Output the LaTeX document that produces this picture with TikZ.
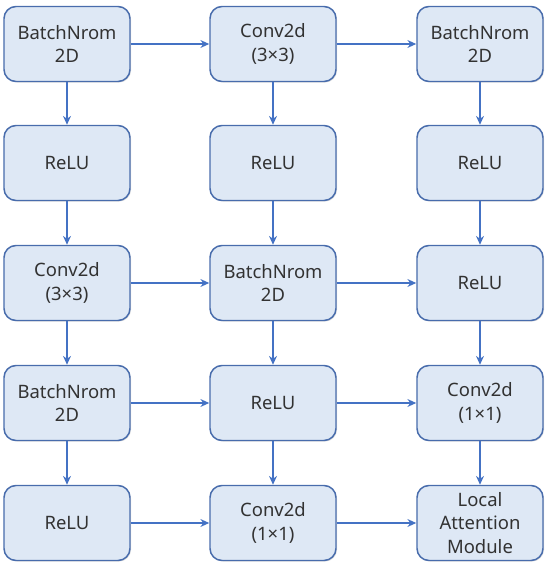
\documentclass[tikz,border=0pt]{standalone}
\usepackage{fontspec}
\setmainfont{Noto Sans}
\usetikzlibrary{arrows.meta,shadows}

\definecolor{boxfill}{RGB}{222,232,245}
\definecolor{boxline}{RGB}{72,108,172}
\definecolor{arrowblue}{RGB}{68,114,196}
\definecolor{textgray}{RGB}{50,50,50}

\begin{document}
\begin{tikzpicture}[
		block/.style={draw=boxline, fill=boxfill, line width=0.85pt, rounded corners=0.24cm,
			minimum width=2.52cm, minimum height=1.5cm, align=center, text=textgray,
			font=\fontsize{10.5}{13.6}\selectfont,
			drop shadow={opacity=0.25, shadow xshift=0.6pt, shadow yshift=-0.6pt}},
		flow/.style={draw=arrowblue, line width=0.8pt, -{Stealth[length=5pt,width=4.5pt]}}
	]

		\useasboundingbox (0,0) rectangle (11,11.36);

		% Define the nodes
		\node[block] (bn_a) at (1.34,10.48) {BatchNrom\\2D};
		\node[block] (relu_a) at (1.34,8.1) {ReLU};
		\node[block] (conv_a) at (1.34,5.7) {Conv2d\\(3×3)};
		\node[block] (bn_b) at (1.34,3.3) {BatchNrom\\2D};
		\node[block] (relu_b) at (1.34,0.9) {ReLU};

		\node[block] (conv_b) at (5.46,10.48) {Conv2d\\(3×3)};
		\node[block] (relu_c) at (5.46,8.1) {ReLU};
		\node[block] (bn_c) at (5.46,5.7) {BatchNrom\\2D};
		\node[block] (relu_d) at (5.46,3.3) {ReLU};
		\node[block] (conv_c) at (5.46,0.9) {Conv2d\\(1×1)};

		\node[block] (bn_d) at (9.6,10.48) {BatchNrom\\2D};
		\node[block] (relu_e) at (9.6,8.1) {ReLU};
		\node[block] (relu_f) at (9.6,5.7) {ReLU};
		\node[block] (conv_d) at (9.6,3.3) {Conv2d\\(1×1)};
		\node[block] (lam) at (9.6,0.9) {Local\\Attention\\Module};

		% Define the edges
		\draw[flow] (bn_a) -- (relu_a);
		\draw[flow] (relu_a) -- (conv_a);
		\draw[flow] (conv_a) -- (bn_b);
		\draw[flow] (bn_b) -- (relu_b);

		\draw[flow] (conv_b) -- (relu_c);
		\draw[flow] (relu_c) -- (bn_c);
		\draw[flow] (bn_c) -- (relu_d);
		\draw[flow] (relu_d) -- (conv_c);

		\draw[flow] (bn_d) -- (relu_e);
		\draw[flow] (relu_e) -- (relu_f);
		\draw[flow] (relu_f) -- (conv_d);
		\draw[flow] (conv_d) -- (lam);

		\draw[flow] (bn_a) -- (conv_b);
		\draw[flow] (conv_b) -- (bn_d);
		\draw[flow] (conv_a) -- (bn_c);
		\draw[flow] (bn_c) -- (relu_f);
		\draw[flow] (bn_b) -- (relu_d);
		\draw[flow] (relu_d) -- (conv_d);
		\draw[flow] (relu_b) -- (conv_c);
		\draw[flow] (conv_c) -- (lam);

	\end{tikzpicture}
\end{document}
